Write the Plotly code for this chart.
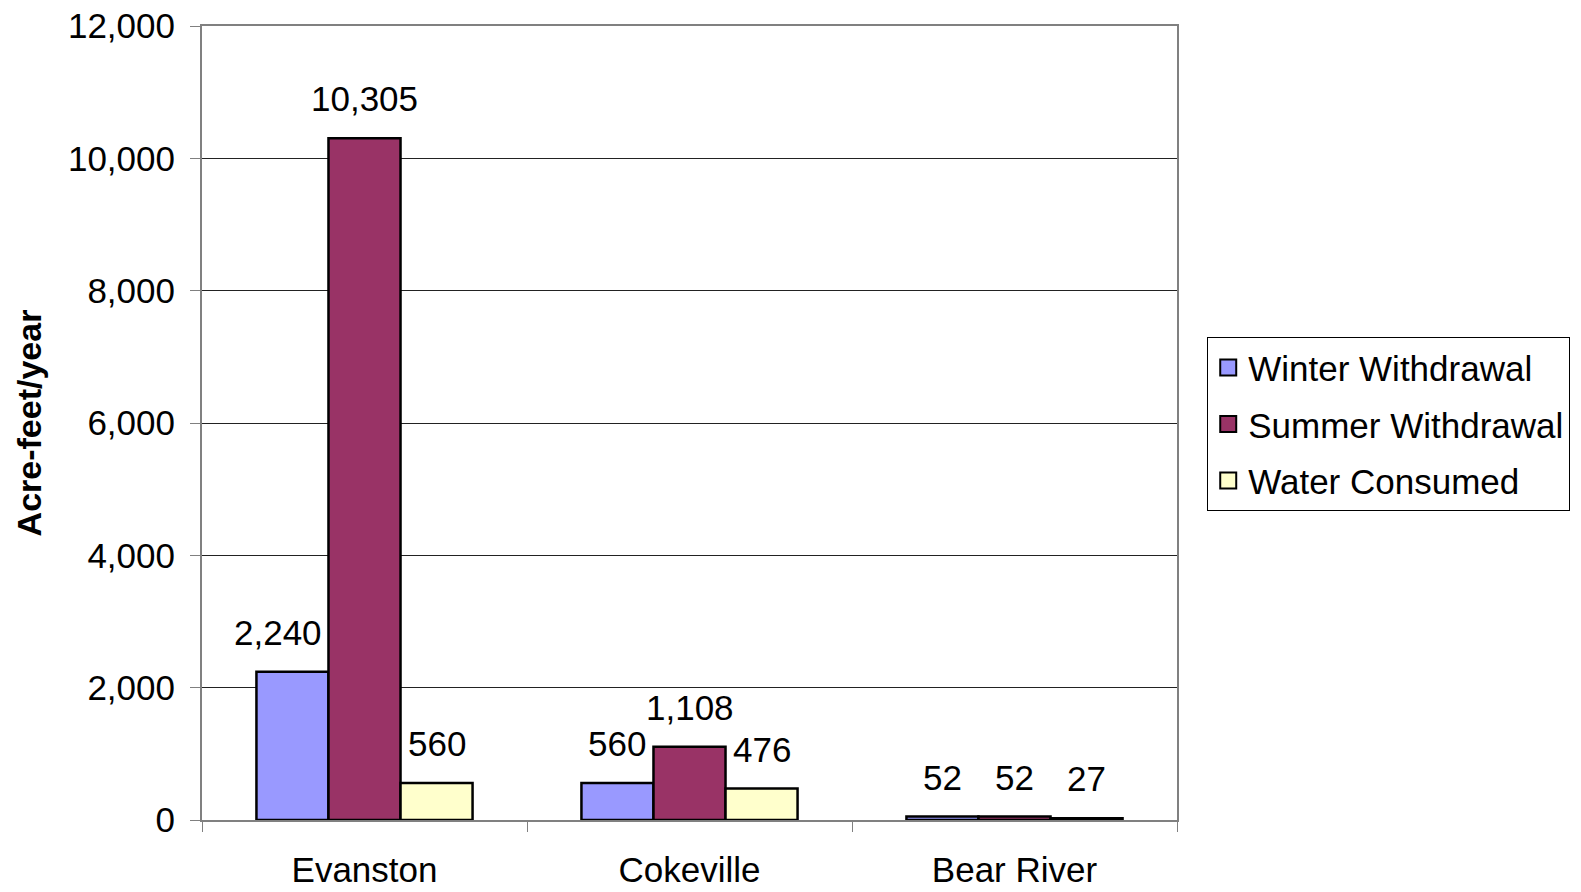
import plotly.graph_objects as go

categories = ["Evanston", "Cokeville", "Bear River"]
series_names = ["Winter Withdrawal", "Summer Withdrawal", "Water Consumed"]
winter = [2240, 560, 52]
summer = [10305, 1108, 52]
consumed = [560, 476, 27]
colors = ["#9999FF", "#993366", "#FFFFCC"]

y_ticks = [0, 2000, 4000, 6000, 8000, 10000, 12000]

# labels that are pushed aside (right-aligned to their bar) to avoid a taller neighbour
right_aligned_labels = {("Evanston", "Winter Withdrawal")}

FONT = "Liberation Sans, Arial, sans-serif"
FS = 35
BARGAP = 0.335

fig = go.Figure()
all_series = [winter, summer, consumed]
for name, vals, col in zip(series_names, all_series, colors):
    fig.add_trace(go.Bar(
        name=name, x=categories, y=vals,
        marker=dict(color=col, line=dict(color="black", width=2.5)),
        showlegend=False,
    ))
# legend entries with larger square swatches
for name, col in zip(series_names, colors):
    fig.add_trace(go.Scatter(
        name=name, x=[None], y=[None], mode="markers",
        marker=dict(symbol="square", size=17, color=col,
                    line=dict(color="black", width=2)),
        legendgroup=name, showlegend=True,
    ))

# data labels, placed over each bar
n = len(all_series)
w = (1 - BARGAP) / n
for j, (sname, vals) in enumerate(zip(series_names, all_series)):
    off = (j - (n - 1) / 2) * w
    for i, v in enumerate(vals):
        if (categories[i], sname) in right_aligned_labels:
            xpos, xanchor, xshift = i + off + w / 2, "right", -4
        else:
            xpos, xanchor, xshift = i + off, "center", 0
        fig.add_annotation(
            x=xpos, y=v, xref="x", yref="y",
            text=f"{v:,}", showarrow=False,
            xanchor=xanchor, xshift=xshift,
            yanchor="bottom", yshift=18,
            font=dict(family=FONT, size=FS, color="black"),
        )

fig.update_layout(
    width=1581, height=892,
    margin=dict(l=202, r=404, t=26, b=72, autoexpand=False),
    paper_bgcolor="white", plot_bgcolor="white",
    barmode="group", bargap=BARGAP, bargroupgap=0,
    font=dict(family=FONT, size=FS, color="black"),
    legend=dict(
        x=1.031, y=0.608, xanchor="left", yanchor="top",
        bordercolor="black", borderwidth=1, bgcolor="white",
        font=dict(family=FONT, size=FS, color="black"),
        tracegroupgap=8, itemwidth=30,
    ),
    xaxis=dict(
        type="category", range=[-0.5, 2.5], automargin=False,
        tickson="boundaries", ticks="outside", ticklen=10, tickwidth=1,
        tickcolor="#808080",
        showline=True, linecolor="#808080", linewidth=2, mirror=True,
        showgrid=False, ticklabelstandoff=18,
        tickfont=dict(family=FONT, size=FS, color="black"),
    ),
    yaxis=dict(
        range=[0, 12000], tickvals=y_ticks, tickformat=",", automargin=False,
        ticks="outside", ticklen=10, tickwidth=1, tickcolor="#808080",
        showline=True, linecolor="#808080", linewidth=2, mirror=True,
        showgrid=True, gridcolor="#222222", gridwidth=1,
        zeroline=False, ticklabelstandoff=8,
        tickfont=dict(family=FONT, size=FS, color="black"),
        title=dict(text="<b>Acre-feet/year</b>", standoff=16,
                   font=dict(family=FONT, size=34, color="black")),
    ),
)

fig.write_html("out.html")
